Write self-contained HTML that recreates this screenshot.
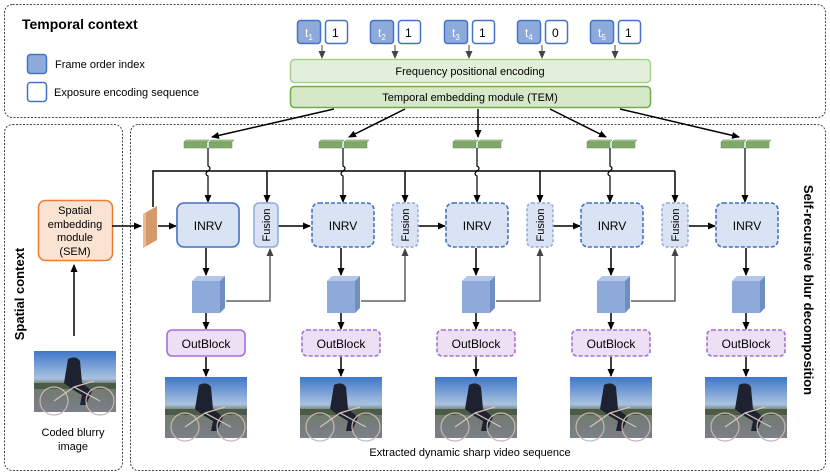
<!DOCTYPE html>
<html><head><meta charset="utf-8"><style>
body{margin:0;background:#fff}
svg{display:block;font-family:"Liberation Sans",Arial,sans-serif}
</style></head><body>
<svg width="830" height="475" viewBox="0 0 830 475" xmlns="http://www.w3.org/2000/svg">
<defs>
<marker id="a" markerWidth="8" markerHeight="8" refX="7" refY="4" orient="auto" markerUnits="userSpaceOnUse"><path d="M0,0.5 L8,4 L0,7.5 z" fill="#000"/></marker>
<marker id="g" markerWidth="8" markerHeight="8" refX="7" refY="4" orient="auto" markerUnits="userSpaceOnUse"><path d="M0,0.5 L8,4 L0,7.5 z" fill="#444"/></marker>
<linearGradient id="sky" x1="0" y1="0" x2="0" y2="1"><stop offset="0" stop-color="#3f77c9"/><stop offset="0.45" stop-color="#a9c3e0"/><stop offset="0.55" stop-color="#6f7a6a"/><stop offset="1" stop-color="#7b7f8a"/></linearGradient>
<g id="img">
<rect x="0" y="0" width="82" height="61" fill="url(#sky)"/>
<rect x="0" y="32" width="82" height="6" fill="#4c5a48"/>
<path d="M34,8 q8,-4 12,2 l2,22 l10,8 l-6,14 l-6,0 l2,-10 l-10,-6 l-8,-6 z" fill="#1e2230"/>
<circle cx="20" cy="50" r="14" fill="none" stroke="#c9b8b0" stroke-width="1.2"/>
<circle cx="66" cy="50" r="14" fill="none" stroke="#c9b8b0" stroke-width="1.2"/>
<path d="M20,50 L40,36 L66,50 M40,36 L60,30" stroke="#d6c4bb" stroke-width="1.2" fill="none"/>
</g>
</defs>
<!-- panels -->
<rect x="4.5" y="4.5" width="821" height="113" rx="8" fill="none" stroke="#444" stroke-dasharray="2,1.5"/>
<rect x="4.5" y="124.5" width="118" height="346" rx="8" fill="none" stroke="#444" stroke-dasharray="2,1.5"/>
<rect x="130.5" y="124.5" width="695" height="346" rx="8" fill="none" stroke="#444" stroke-dasharray="2,1.5"/>
<text x="22" y="29" font-size="14" font-weight="bold">Temporal context</text>
<rect x="27.5" y="54.5" width="19" height="19" rx="3" fill="#8eaadb" stroke="#4472c4" stroke-width="1.5"/>
<text x="55" y="68" font-size="11">Frame order index</text>
<rect x="27.5" y="82.5" width="19" height="19" rx="3" fill="#fff" stroke="#4472c4" stroke-width="1.5"/>
<text x="54" y="96" font-size="11">Exposure encoding sequence</text>
<!-- tokens -->
<g font-size="12">
<g transform="translate(297,0)"><rect x="0.5" y="20.5" width="23" height="23" rx="3" fill="#8eaadb" stroke="#4472c4" stroke-width="1.5"/><text x="8" y="37" fill="#fff">t<tspan font-size="8" dy="3">1</tspan></text><rect x="28.5" y="20.5" width="22" height="23" rx="3" fill="#fff" stroke="#4472c4" stroke-width="1.5"/><text x="35" y="37">1</text><line x1="25" y1="45" x2="25" y2="58" stroke="#444" marker-end="url(#g)"/></g>
<g transform="translate(370,0)"><rect x="0.5" y="20.5" width="23" height="23" rx="3" fill="#8eaadb" stroke="#4472c4" stroke-width="1.5"/><text x="8" y="37" fill="#fff">t<tspan font-size="8" dy="3">2</tspan></text><rect x="28.5" y="20.5" width="22" height="23" rx="3" fill="#fff" stroke="#4472c4" stroke-width="1.5"/><text x="35" y="37">1</text><line x1="25" y1="45" x2="25" y2="58" stroke="#444" marker-end="url(#g)"/></g>
<g transform="translate(444,0)"><rect x="0.5" y="20.5" width="23" height="23" rx="3" fill="#8eaadb" stroke="#4472c4" stroke-width="1.5"/><text x="8" y="37" fill="#fff">t<tspan font-size="8" dy="3">3</tspan></text><rect x="28.5" y="20.5" width="22" height="23" rx="3" fill="#fff" stroke="#4472c4" stroke-width="1.5"/><text x="35" y="37">1</text><line x1="25" y1="45" x2="25" y2="58" stroke="#444" marker-end="url(#g)"/></g>
<g transform="translate(517,0)"><rect x="0.5" y="20.5" width="23" height="23" rx="3" fill="#8eaadb" stroke="#4472c4" stroke-width="1.5"/><text x="8" y="37" fill="#fff">t<tspan font-size="8" dy="3">4</tspan></text><rect x="28.5" y="20.5" width="22" height="23" rx="3" fill="#fff" stroke="#4472c4" stroke-width="1.5"/><text x="35" y="37">0</text><line x1="25" y1="45" x2="25" y2="58" stroke="#444" marker-end="url(#g)"/></g>
<g transform="translate(590,0)"><rect x="0.5" y="20.5" width="23" height="23" rx="3" fill="#8eaadb" stroke="#4472c4" stroke-width="1.5"/><text x="8" y="37" fill="#fff">t<tspan font-size="8" dy="3">5</tspan></text><rect x="28.5" y="20.5" width="22" height="23" rx="3" fill="#fff" stroke="#4472c4" stroke-width="1.5"/><text x="35" y="37">1</text><line x1="25" y1="45" x2="25" y2="58" stroke="#444" marker-end="url(#g)"/></g>
</g>
<rect x="290.5" y="59.5" width="360" height="23" rx="4" fill="#e2efda" stroke="#a9d18e" stroke-width="1.5"/>
<text x="470" y="75" font-size="11" text-anchor="middle">Frequency positional encoding</text>
<rect x="290.5" y="86.5" width="360" height="21" rx="4" fill="#d5e8c8" stroke="#70ad47" stroke-width="1.5"/>
<text x="470" y="101" font-size="11" text-anchor="middle">Temporal embedding module (TEM)</text>
<!-- TEM arrows -->
<g stroke="#000" stroke-width="1.5" fill="none">
<line x1="334" y1="109" x2="212" y2="137" marker-end="url(#a)"/>
<line x1="405" y1="109" x2="349" y2="137" marker-end="url(#a)"/>
<line x1="478" y1="109" x2="478" y2="137" marker-end="url(#a)"/>
<line x1="550" y1="109" x2="606" y2="137" marker-end="url(#a)"/>
<line x1="620" y1="109" x2="739" y2="137" marker-end="url(#a)"/>
</g>
<!-- green bars -->
<g fill="#82a96a" stroke="#5f8a4a" stroke-width="0.5">
<g transform="translate(184,140)"><path d="M0,2 l2,-2 h23 l-2,2 z M25,2 l2,-2 h23 l-2,2z" fill="#a8c796"/><rect x="0" y="2" width="23" height="6"/><rect x="25" y="2" width="23" height="6"/></g>
<g transform="translate(319,140)"><path d="M0,2 l2,-2 h23 l-2,2 z M25,2 l2,-2 h23 l-2,2z" fill="#a8c796"/><rect x="0" y="2" width="23" height="6"/><rect x="25" y="2" width="23" height="6"/></g>
<g transform="translate(453,140)"><path d="M0,2 l2,-2 h23 l-2,2 z M25,2 l2,-2 h23 l-2,2z" fill="#a8c796"/><rect x="0" y="2" width="23" height="6"/><rect x="25" y="2" width="23" height="6"/></g>
<g transform="translate(587,140)"><path d="M0,2 l2,-2 h23 l-2,2 z M25,2 l2,-2 h23 l-2,2z" fill="#a8c796"/><rect x="0" y="2" width="23" height="6"/><rect x="25" y="2" width="23" height="6"/></g>
<g transform="translate(721,140)"><path d="M0,2 l2,-2 h23 l-2,2 z M25,2 l2,-2 h23 l-2,2z" fill="#a8c796"/><rect x="0" y="2" width="23" height="6"/><rect x="25" y="2" width="23" height="6"/></g>
</g>
<!-- bus -->
<g stroke="#000" stroke-width="1.5" fill="none">
<path d="M153,207 V171 H675"/>
<line x1="267" y1="171" x2="267" y2="202" marker-end="url(#a)"/>
<line x1="405" y1="171" x2="405" y2="202" marker-end="url(#a)"/>
<line x1="540" y1="171" x2="540" y2="202" marker-end="url(#a)"/>
<line x1="675" y1="171" x2="675" y2="202" marker-end="url(#a)"/>
</g>
<g stroke="#000" stroke-width="1.2" fill="none">
<path d="M208,148 V166 q4,2 0,5 q-4,3 0,5 V202" marker-end="url(#a)"/>
<path d="M343,148 V166 q4,2 0,5 q-4,3 0,5 V202" marker-end="url(#a)"/>
<path d="M477,148 V166 q4,2 0,5 q-4,3 0,5 V202" marker-end="url(#a)"/>
<path d="M610,148 V166 q4,2 0,5 q-4,3 0,5 V202" marker-end="url(#a)"/>
<path d="M745,148 V202" marker-end="url(#a)"/>
</g>
<!-- SEM -->
<rect x="38.5" y="200.5" width="74" height="60" rx="7" fill="#fbe3d4" stroke="#ed7d31" stroke-width="1.5"/>
<text font-size="11" text-anchor="middle"><tspan x="75" y="214">Spatial</tspan><tspan x="75" y="228">embedding</tspan><tspan x="75" y="241">module</tspan><tspan x="75" y="255">(SEM)</tspan></text>
<line x1="74" y1="336" x2="74" y2="265" stroke="#000" stroke-width="1.5" marker-end="url(#a)"/>
<use href="#img" x="34" y="351"/>
<text font-size="11" text-anchor="middle"><tspan x="73" y="436">Coded blurry</tspan><tspan x="73" y="450">image</tspan></text>
<text transform="translate(24,294) rotate(-90)" font-size="13" font-weight="bold" text-anchor="middle">Spatial context</text>
<text transform="translate(804,290) rotate(90)" font-size="13" font-weight="bold" text-anchor="middle">Self-recursive blur decomposition</text>
<!-- slab -->
<path d="M143,214 L157,206 L157,240 L143,248 z" fill="#d59a6c"/>
<path d="M143,214 L146,212 L146,246 L143,248 z" fill="#f2b98a"/>
<g stroke="#000" stroke-width="1.5">
<line x1="112" y1="226" x2="141" y2="226" marker-end="url(#a)"/>
<line x1="158" y1="226" x2="176" y2="226" marker-end="url(#a)"/>
<line x1="278" y1="226" x2="310" y2="226" marker-end="url(#a)"/>
<line x1="418" y1="226" x2="445" y2="226" marker-end="url(#a)"/>
<line x1="553" y1="226" x2="580" y2="226" marker-end="url(#a)"/>
<line x1="689" y1="226" x2="715" y2="226" marker-end="url(#a)"/>
</g>
<!-- INRV boxes -->
<g fill="#dae3f3" stroke="#4472c4" stroke-width="1.6">
<rect x="177" y="203" width="62" height="44" rx="7"/>
<rect x="312" y="203" width="62" height="44" rx="7" stroke-dasharray="4,2"/>
<rect x="446" y="203" width="62" height="44" rx="7" stroke-dasharray="4,2"/>
<rect x="581" y="203" width="62" height="44" rx="7" stroke-dasharray="4,2"/>
<rect x="716" y="203" width="62" height="44" rx="7" stroke-dasharray="4,2"/>
</g>
<g font-size="12" text-anchor="middle"><text x="208" y="230">INRV</text><text x="343" y="230">INRV</text><text x="477" y="230">INRV</text><text x="612" y="230">INRV</text><text x="747" y="230">INRV</text></g>
<!-- fusion -->
<g fill="#dae3f3" stroke="#8faadc" stroke-width="1.5">
<rect x="254" y="203" width="24" height="44" rx="5"/>
<rect x="392" y="203" width="26" height="44" rx="5" stroke-dasharray="3,2"/>
<rect x="527" y="203" width="26" height="44" rx="5" stroke-dasharray="3,2"/>
<rect x="662" y="203" width="26" height="44" rx="5" stroke-dasharray="3,2"/>
</g>
<g font-size="11" text-anchor="middle">
<text transform="translate(270,225) rotate(-90)">Fusion</text>
<text transform="translate(409,225) rotate(-90)">Fusion</text>
<text transform="translate(544,225) rotate(-90)">Fusion</text>
<text transform="translate(679,225) rotate(-90)">Fusion</text>
</g>
<!-- cubes & downstream -->
<g id="col">
</g>
<g stroke="#000" stroke-width="1.5">
<line x1="206" y1="248" x2="206" y2="275" marker-end="url(#a)"/><line x1="341" y1="248" x2="341" y2="275" marker-end="url(#a)"/><line x1="476" y1="248" x2="476" y2="275" marker-end="url(#a)"/><line x1="611" y1="248" x2="611" y2="275" marker-end="url(#a)"/><line x1="746" y1="248" x2="746" y2="275" marker-end="url(#a)"/>
<line x1="206" y1="313" x2="206" y2="329" marker-end="url(#a)"/><line x1="341" y1="313" x2="341" y2="329" marker-end="url(#a)"/><line x1="476" y1="313" x2="476" y2="329" marker-end="url(#a)"/><line x1="611" y1="313" x2="611" y2="329" marker-end="url(#a)"/><line x1="746" y1="313" x2="746" y2="329" marker-end="url(#a)"/>
<line x1="206" y1="357" x2="206" y2="376" marker-end="url(#a)"/><line x1="341" y1="357" x2="341" y2="376" marker-end="url(#a)"/><line x1="476" y1="357" x2="476" y2="376" marker-end="url(#a)"/><line x1="611" y1="357" x2="611" y2="376" marker-end="url(#a)"/><line x1="746" y1="357" x2="746" y2="376" marker-end="url(#a)"/>
</g>
<g stroke="#444" stroke-width="1.3" fill="none">
<path d="M226,301 H270 V249" marker-end="url(#g)"/>
<path d="M361,301 H405 V249" marker-end="url(#g)"/>
<path d="M496,301 H540 V249" marker-end="url(#g)"/>
<path d="M631,301 H675 V249" marker-end="url(#g)"/>
</g>
<g>
<g transform="translate(192,276)"><rect x="0" y="5" width="28" height="32" fill="#8eaadb"/><path d="M0,5 L5,0 H33 L28,5z" fill="#b4c7e7"/><path d="M28,5 L33,0 V32 L28,37z" fill="#6f8fc4"/></g>
<g transform="translate(327,276)"><rect x="0" y="5" width="28" height="32" fill="#8eaadb"/><path d="M0,5 L5,0 H33 L28,5z" fill="#b4c7e7"/><path d="M28,5 L33,0 V32 L28,37z" fill="#6f8fc4"/></g>
<g transform="translate(462,276)"><rect x="0" y="5" width="28" height="32" fill="#8eaadb"/><path d="M0,5 L5,0 H33 L28,5z" fill="#b4c7e7"/><path d="M28,5 L33,0 V32 L28,37z" fill="#6f8fc4"/></g>
<g transform="translate(597,276)"><rect x="0" y="5" width="28" height="32" fill="#8eaadb"/><path d="M0,5 L5,0 H33 L28,5z" fill="#b4c7e7"/><path d="M28,5 L33,0 V32 L28,37z" fill="#6f8fc4"/></g>
<g transform="translate(732,276)"><rect x="0" y="5" width="28" height="32" fill="#8eaadb"/><path d="M0,5 L5,0 H33 L28,5z" fill="#b4c7e7"/><path d="M28,5 L33,0 V32 L28,37z" fill="#6f8fc4"/></g>
</g>
<g fill="#ede0f5" stroke="#a56fd6" stroke-width="1.6">
<rect x="167" y="330" width="78" height="26" rx="5"/>
<rect x="302" y="330" width="78" height="26" rx="5" stroke-dasharray="4,2"/>
<rect x="437" y="330" width="78" height="26" rx="5" stroke-dasharray="4,2"/>
<rect x="572" y="330" width="78" height="26" rx="5" stroke-dasharray="4,2"/>
<rect x="707" y="330" width="78" height="26" rx="5" stroke-dasharray="4,2"/>
</g>
<g font-size="12" text-anchor="middle"><text x="206" y="348">OutBlock</text><text x="341" y="348">OutBlock</text><text x="476" y="348">OutBlock</text><text x="611" y="348">OutBlock</text><text x="746" y="348">OutBlock</text></g>
<use href="#img" x="165" y="377"/><use href="#img" x="300" y="377"/><use href="#img" x="435" y="377"/><use href="#img" x="570" y="377"/><use href="#img" x="705" y="377"/>
<text x="470" y="456" font-size="11" text-anchor="middle">Extracted dynamic sharp video sequence</text>
</svg>
</body></html>
